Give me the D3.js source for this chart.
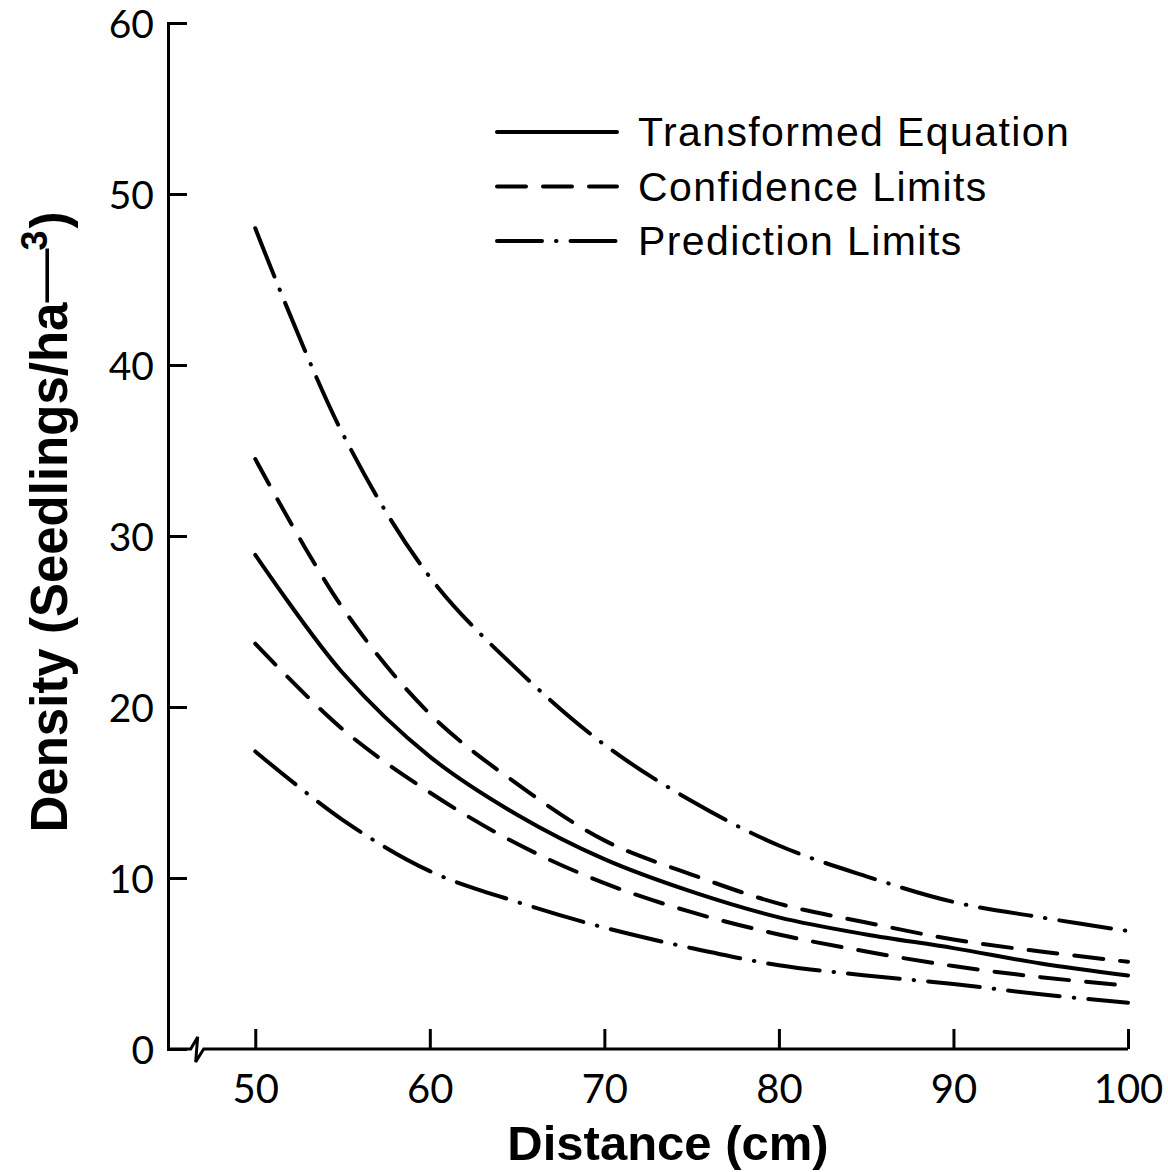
<!DOCTYPE html>
<html>
<head>
<meta charset="utf-8">
<script src="https://cdn.jsdelivr.net/npm/d3@7"></script>
<style>
  html, body { margin: 0; padding: 0; background: #fff; }
  svg { display: block; }
</style>
</head>
<body>
<svg id="chart" width="1168" height="1172"></svg>
<script>
// Distance (cm) at which each curve is sampled
const distance = [50, 55, 60, 65, 70, 75, 80, 85, 90, 95, 100];

// Seedling density curves (seedlings/ha^-3)
const fitted     = [28.9, 22.0, 17.1, 13.7, 11.1, 9.2, 7.7, 6.7, 5.9, 5.0, 4.3];
const confUpper  = [34.5, 25.8, 19.6, 15.5, 12.2, 10.2, 8.5, 7.4, 6.4, 5.7, 5.1];
const confLower  = [23.7, 18.7, 15.0, 12.0, 9.7, 8.0, 6.7, 5.7, 4.85, 4.2, 3.7];
const predUpper  = [48.0, 36.0, 27.6, 22.2, 17.8, 14.5, 11.9, 10.1, 8.6, 7.7, 6.9];
const predLower  = [17.4, 13.4, 10.4, 8.6, 7.1, 5.9, 4.9, 4.3, 3.8, 3.2, 2.7];

// Axis ticks
const xTicks = [50, 60, 70, 80, 90, 100];
const yTicks = [0, 10, 20, 30, 40, 50, 60];

// Legend entries
const legendLabels = ["Transformed Equation", "Confidence Limits", "Prediction Limits"];

const svg = d3.select("#chart");

const x = d3.scaleLinear().domain([45, 100]).range([168, 1128]);
const y = d3.scaleLinear().domain([0, 60]).range([1049, 23]);

const ink = "#000";
const styles = {
  solid:   { dash: null },
  dashed:  { dash: "29,17" },
  dashdot: { dash: "52,14,0.5,14" }
};

const series = [
  { values: predUpper, style: "dashdot" },
  { values: confUpper, style: "dashed" },
  { values: fitted,    style: "solid" },
  { values: confLower, style: "dashed" },
  { values: predLower, style: "dashdot" }
];

// ---- curves ----
const line = d3.line()
  .x(d => x(d[0]))
  .y(d => y(d[1]))
  .curve(d3.curveCatmullRom.alpha(0.5));

svg.append("g").selectAll("path")
  .data(series)
  .join("path")
  .attr("d", s => line(distance.map((d, i) => [d, s.values[i]])))
  .attr("fill", "none")
  .attr("stroke", ink)
  .attr("stroke-width", 4)
  .attr("stroke-linecap", "round")
  .attr("stroke-dasharray", s => styles[s.style].dash);

// ---- y axis (ticks point inward) ----
const yAxis = d3.axisLeft(y)
  .tickValues(yTicks)
  .tickSize(-19)
  .tickSizeOuter(-19)
  .tickPadding(14)
  .tickFormat(d3.format("d"));

const gy = svg.append("g").attr("transform", `translate(${x(45)},0)`).call(yAxis);
gy.select(".domain").attr("stroke", ink).attr("stroke-width", 3);
gy.selectAll(".tick line").attr("stroke", ink).attr("stroke-width", 3);
gy.selectAll(".tick text")
  .attr("fill", ink)
  .style("font-family", "Lato, 'Open Sans', sans-serif")
  .style("font-size", "39px")
  .attr("dy", "0.36em");

// ---- x axis (ticks point inward, broken near origin) ----
const xAxis = d3.axisBottom(x)
  .tickValues(xTicks)
  .tickSize(-20)
  .tickSizeOuter(0)
  .tickPadding(16)
  .tickFormat(d3.format("d"));

const gx = svg.append("g").attr("transform", `translate(0,${y(0)})`).call(xAxis);
gx.select(".domain").remove();
gx.selectAll(".tick line").attr("stroke", ink).attr("stroke-width", 3);
gx.selectAll(".tick text")
  .attr("fill", ink)
  .style("font-family", "Lato, 'Open Sans', sans-serif")
  .style("font-size", "40px")
  .attr("dy", "0.95em");

// axis line with a zig-zag break between the origin and 50
const breakAt = 46.7;
const bx = x(breakAt);
const y0 = y(0);
const axisPath = d3.path();
axisPath.moveTo(x(45), y0);
axisPath.lineTo(bx - 7, y0);
axisPath.lineTo(bx, y0 - 12);
axisPath.lineTo(bx - 2, y0 + 13);
axisPath.lineTo(bx + 6, y0);
axisPath.lineTo(x(100), y0);
svg.append("path")
  .attr("d", axisPath.toString())
  .attr("fill", "none")
  .attr("stroke", ink)
  .attr("stroke-width", 3)
  .attr("stroke-linejoin", "miter");

// ---- axis titles ----
svg.append("text")
  .attr("x", 668)
  .attr("y", 1160)
  .attr("text-anchor", "middle")
  .style("font-family", "'Liberation Sans', Arial, sans-serif")
  .style("font-weight", "bold")
  .style("font-size", "49px")
  .attr("fill", ink)
  .text("Distance (cm)");

const yTitle = svg.append("text")
  .attr("transform", "translate(67,522) rotate(-90)")
  .attr("text-anchor", "middle")
  .style("font-family", "'Liberation Sans', Arial, sans-serif")
  .style("font-weight", "bold")
  .style("font-size", "51px")
  .attr("fill", ink);
yTitle.append("tspan").text("Density (Seedlings/ha");
yTitle.append("tspan").style("font-weight", "normal").style("font-size", "54px").attr("dy", -6).text("\u2014");
yTitle.append("tspan").style("font-size", "36px").attr("dx", -2).attr("dy", -14).text("3");
yTitle.append("tspan").attr("dx", 2).attr("dy", 20).text(")");

// ---- legend ----
const legendKeys = ["solid", "dashed", "dashdot"];
const legend = svg.append("g");
const rows = legend.selectAll("g")
  .data(legendLabels)
  .join("g")
  .attr("transform", (d, i) => `translate(497,${132 + i * 54.5})`);

rows.append("line")
  .attr("x1", 0).attr("x2", 120)
  .attr("y1", 0).attr("y2", 0)
  .attr("stroke", ink)
  .attr("stroke-width", 4)
  .attr("stroke-linecap", "round")
  .attr("stroke-dasharray", (d, i) => legendKeys[i] === "dashdot" ? "45,14,0.5,14" : styles[legendKeys[i]].dash);

rows.append("text")
  .attr("x", 141)
  .attr("y", 14)
  .style("font-family", "'Liberation Sans', Arial, sans-serif")
  .style("font-size", "41px")
  .style("letter-spacing", "1.4px")
  .attr("fill", ink)
  .text(d => d);
</script>
</body>
</html>
